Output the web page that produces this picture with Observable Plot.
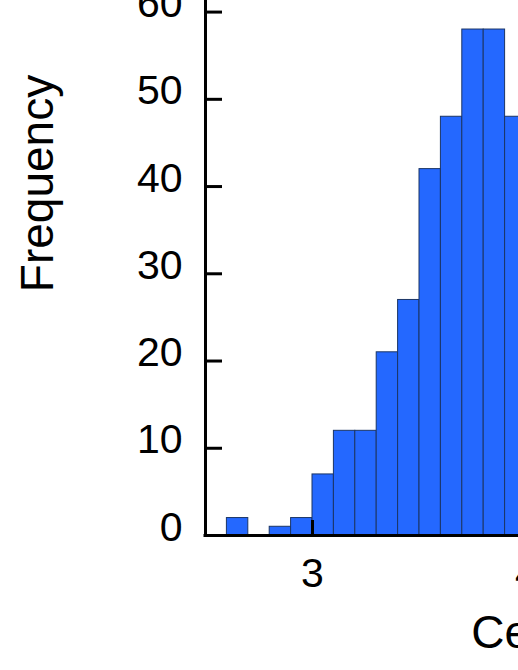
<!DOCTYPE html>
<html>
<head>
<meta charset="utf-8">
<script src="https://cdn.jsdelivr.net/npm/d3@7"></script>
<script src="https://cdn.jsdelivr.net/npm/@observablehq/plot@0.6"></script>
<style>
  html, body { margin: 0; padding: 0; background: #fff; overflow: hidden; }
</style>
</head>
<body>
<div id="chart"></div>
<script>
// Histogram bins (visible part of the chart)
const binLo  = [2.6, 2.7, 2.8, 2.9, 3.0, 3.1, 3.2, 3.3, 3.4, 3.5, 3.6, 3.7, 3.8, 3.9];
const binHi  = [2.7, 2.8, 2.9, 3.0, 3.1, 3.2, 3.3, 3.4, 3.5, 3.6, 3.7, 3.8, 3.9, 4.0];
const counts = [2, 0, 1, 2, 7, 12, 12, 21, 27, 42, 48, 58, 58, 48];

const xTicks = [3, 4, 5, 6];
const yTicks = [0, 10, 20, 30, 40, 50, 60, 70, 80];
const xDomain = [2.5, 6.0];
const yDomain = [0, 80.7];
const xTitle = "Cell length";
const yTitle = "Frequency";

const data = binLo.map((lo, i) => ({x1: lo, x2: binHi[i], count: counts[i]}));

const W = 518, H = 670;
const mL = 205, mR = -436, mT = -169, mB = 135;
const frameW = W - mL - mR, frameH = H - mT - mB;
const yTickLen = 17, xTickLen = 15;

const chart = Plot.plot({
  width: W,
  height: H,
  marginLeft: mL,
  marginRight: mR,
  marginTop: mT,
  marginBottom: mB,
  style: {fontFamily: "'Liberation Sans', Arial, sans-serif", background: "#fff", color: "#000"},
  x: {domain: xDomain},
  y: {domain: yDomain},
  marks: [
    Plot.rectY(data, {x1: "x1", x2: "x2", y: "count", fill: "#2468ff", stroke: "#1b3565", strokeWidth: 1}),
    // y tick labels
    Plot.axisY({ticks: yTicks, tickSize: 0, tickPadding: 23, dy: -8, fontSize: 41, fill: "#000", tickFormat: "d", label: null}),
    // y title
    Plot.axisY({ticks: [], tickSize: 0, label: yTitle, labelAnchor: "center", labelArrow: "none", labelOffset: 185, fontSize: 46, fill: "#000"}),
    // x tick labels
    Plot.axisX({ticks: xTicks, tickSize: 0, tickPadding: 22, fontSize: 41, fill: "#000", tickFormat: "d", label: null}),
    // x title
    Plot.axisX({ticks: [], tickSize: 0, label: xTitle, labelAnchor: "center", labelArrow: "none", labelOffset: 112, fontSize: 46, fill: "#000"}),
    // inside tick marks
    Plot.ruleY(yTicks, {stroke: "#000", strokeWidth: 3, insetRight: frameW - yTickLen}),
    Plot.ruleX(xTicks, {stroke: "#000", strokeWidth: 3, insetTop: frameH - xTickLen}),
    // axis lines
    Plot.ruleX([xDomain[0]], {stroke: "#000", strokeWidth: 3, strokeLinecap: "square"}),
    Plot.ruleY([0], {stroke: "#000", strokeWidth: 3, strokeLinecap: "square"})
  ]
});
document.getElementById("chart").appendChild(chart);
</script>
</body>
</html>
